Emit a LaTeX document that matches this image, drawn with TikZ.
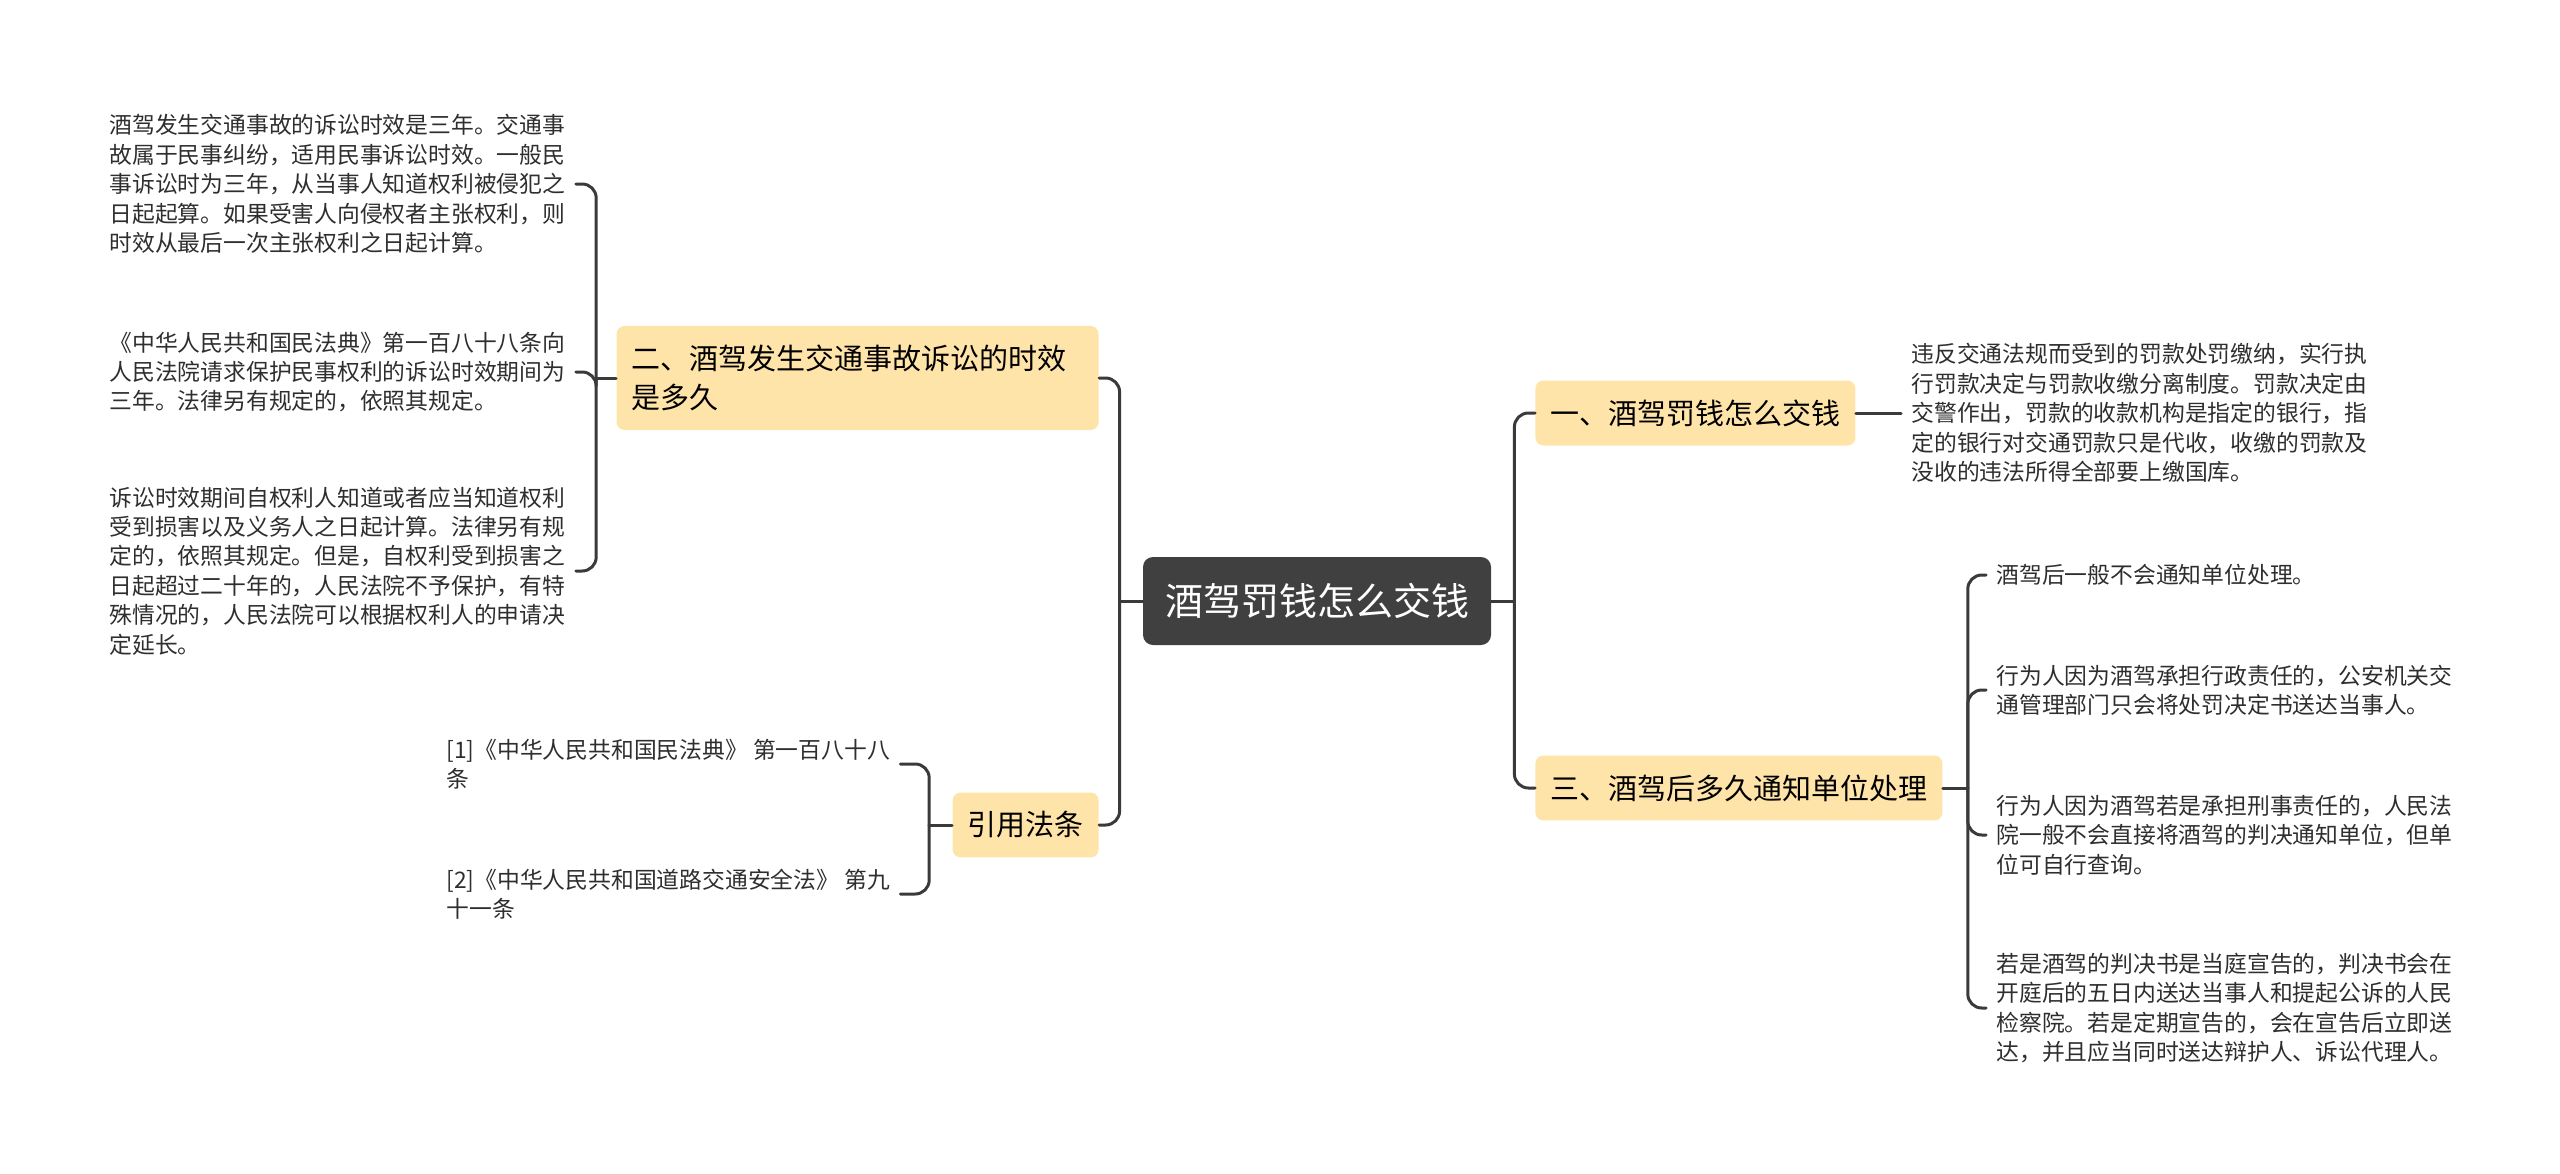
\documentclass[tikz,border=0pt]{standalone}
\usepackage{fontspec}
\setmainfont{Noto Sans CJK SC}
\usepackage{xcolor}
\usepackage{tikz}
\usetikzlibrary{positioning}
\definecolor{linec}{HTML}{3A3A3A}
\definecolor{boxc}{HTML}{FFE4AA}
\definecolor{rootc}{HTML}{404040}
\definecolor{textc}{HTML}{2E2E2E}
\tikzset{
  rootbox/.style={fill=rootc, text=white, rounded corners=5pt, minimum width=174pt, minimum height=44pt, inner sep=0pt, font=\fontsize{19}{23}\selectfont},
  topic/.style={fill=boxc, text=black, rounded corners=4pt, inner xsep=7.5pt, inner ysep=9.5pt, align=left, font=\fontsize{14.5}{19.5}\selectfont},
  leaf/.style={text=textc, align=left, inner xsep=5pt, inner ysep=2pt, font=\fontsize{11.4}{14.7}\selectfont},
  link/.style={draw=linec, line width=1.5pt, rounded corners=7pt},
  every picture/.style={line cap=round, line join=round}
}

\begin{document}
\begin{tikzpicture}[x=0.5pt, y=-0.5pt]
  \useasboundingbox (0,0) rectangle (2560,1173);
  \node[rootbox] (root) at (1317,601) {酒驾罚钱怎么交钱};
  \node[topic, anchor=east, text width=226pt] (t2) at (1099,378) {二、酒驾发生交通事故诉讼的时效\\是多久};
  \node[topic, anchor=east] (t4) at (1099,825) {引用法条};
  \node[topic, anchor=west] (t1) at (1535,413) {一、酒驾罚钱怎么交钱};
  \node[topic, anchor=west] (t3) at (1535,788) {三、酒驾后多久通知单位处理};
  \node[leaf, anchor=west] (l1) at (99,184) {酒驾发生交通事故的诉讼时效是三年。交通事\\故属于民事纠纷，适用民事诉讼时效。一般民\\事诉讼时为三年，从当事人知道权利被侵犯之\\日起起算。如果受害人向侵权者主张权利，则\\时效从最后一次主张权利之日起计算。};
  \node[leaf, anchor=west] (l2) at (99,372) {《中华人民共和国民法典》第一百八十八条向\\人民法院请求保护民事权利的诉讼时效期间为\\三年。法律另有规定的，依照其规定。};
  \node[leaf, anchor=west] (l3) at (99,571) {诉讼时效期间自权利人知道或者应当知道权利\\受到损害以及义务人之日起计算。法律另有规\\定的，依照其规定。但是，自权利受到损害之\\日起超过二十年的，人民法院不予保护，有特\\殊情况的，人民法院可以根据权利人的申请决\\定延长。};
  \node[leaf, anchor=west] (f1) at (436,764) {[1]《中华人民共和国民法典》 第一百八十八\\条};
  \node[leaf, anchor=west] (f2) at (436,894) {[2]《中华人民共和国道路交通安全法》 第九\\十一条};
  \node[leaf, anchor=west] (r1) at (1901,413) {违反交通法规而受到的罚款处罚缴纳，实行执\\行罚款决定与罚款收缴分离制度。罚款决定由\\交警作出，罚款的收款机构是指定的银行，指\\定的银行对交通罚款只是代收，收缴的罚款及\\没收的违法所得全部要上缴国库。};
  \node[leaf, anchor=west] (ra) at (1986,575) {酒驾后一般不会通知单位处理。};
  \node[leaf, anchor=west] (rb) at (1986,690) {行为人因为酒驾承担行政责任的，公安机关交\\通管理部门只会将处罚决定书送达当事人。};
  \node[leaf, anchor=west] (rc) at (1986,835) {行为人因为酒驾若是承担刑事责任的，人民法\\院一般不会直接将酒驾的判决通知单位，但单\\位可自行查询。};
  \node[leaf, anchor=west] (rd) at (1986,1008) {若是酒驾的判决书是当庭宣告的，判决书会在\\开庭后的五日内送达当事人和提起公诉的人民\\检察院。若是定期宣告的，会在宣告后立即送\\达，并且应当同时送达辩护人、诉讼代理人。};
  \coordinate[left=11.5pt of root.west] (tl);
  \coordinate[right=11.5pt of root.east] (tr);
  \coordinate[left=10pt of t2.west] (bl);
  \coordinate[left=11.5pt of t4.west] (bf);
  \coordinate[right=12.5pt of t3.east] (br);
  \draw[link] (root.west) -- (tl);
  \draw[link] (tl) |- (t2.east);
  \draw[link] (tl) |- (t4.east);
  \draw[link] (root.east) -- (tr);
  \draw[link] (tr) |- (t1.west);
  \draw[link] (tr) |- (t3.west);
  \draw[link] (t2.west) -- (bl);
  \draw[link] (bl) |- (l1.east);
  \draw[link] (bl) |- (l2.east);
  \draw[link] (bl) |- (l3.east);
  \draw[link] (t4.west) -- (bf);
  \draw[link] (bf) |- (f1.east);
  \draw[link] (bf) |- (f2.east);
  \draw[link] (t1.east) -- (r1.west);
  \draw[link] (t3.east) -- (br);
  \draw[link] (br) |- (ra.west);
  \draw[link] (br) |- (rb.west);
  \draw[link] (br) |- (rc.west);
  \draw[link] (br) |- (rd.west);
\end{tikzpicture}
\end{document}
